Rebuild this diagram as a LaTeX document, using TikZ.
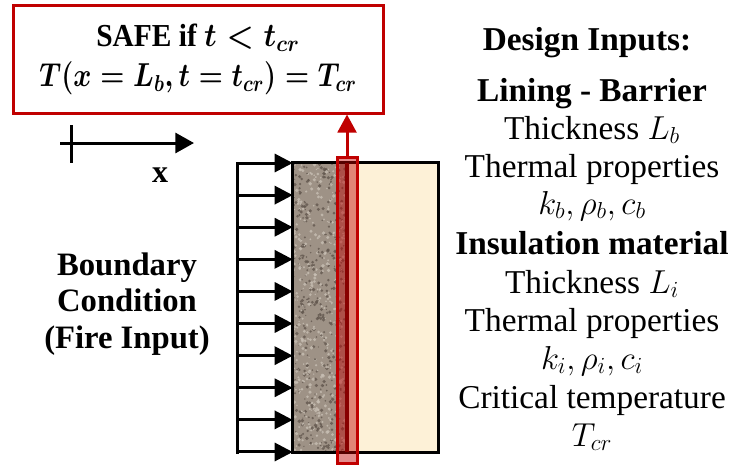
\documentclass[tikz,border=0pt]{standalone}
\usepackage{fontspec}
\setmainfont{Liberation Serif}
\usepackage{graphicx}
\usetikzlibrary{arrows.meta}
\definecolor{safered}{RGB}{192,0,0}
\definecolor{probedark}{RGB}{90,0,0}
\definecolor{cream}{RGB}{253,241,215}
\definecolor{granite}{RGB}{158,146,134}
\definecolor{granitedark}{RGB}{98,87,78}
\definecolor{granitelight}{RGB}{200,191,180}
\newcommand{\wide}[2][1]{\scalebox{#1}[1]{#2}}

\begin{document}
\begin{tikzpicture}[x=0.75pt, y=-0.75pt,
  >={Triangle[length=13.5pt, width=13.5pt]},
  thickline/.style={line width=2.25pt, black},
  flux/.style={thickline, ->},
  crit/.style={draw=safered, line width=2.25pt, inner sep=0pt,
    minimum width=277.5pt, minimum height=81pt, align=center,
    font=\fontsize{24}{30}\selectfont\bfseries\boldmath},
  probe/.style={draw=safered, line width=2.25pt, fill=safered, fill opacity=0.45,
    minimum width=15pt, minimum height=229.5pt, inner sep=0pt},
  intxt/.style={anchor=base, inner sep=0pt, font=\fontsize{25}{30}\selectfont},
  inhead/.style={intxt, font=\fontsize{25}{30}\selectfont\bfseries},
  bctxt/.style={anchor=base, inner sep=0pt, font=\fontsize{24.5}{30}\selectfont\bfseries}]
\useasboundingbox (0,0) rectangle (731,464);

% safety criterion
\node[crit] (safe) at (198,59)
  {\wide[0.92]{SAFE if $t<t_{cr}$}\\ \wide[0.83]{$T(x=L_b,t=t_{cr})=T_{cr}$}};

% x axis
\coordinate (xstart) at (60,143);
\coordinate (xorig) at (71,143);
\coordinate (xend) at (194,143);
\draw[thickline, ->, >={Triangle[length=14pt, width=15pt]}] (xstart) -- (xend);
\draw[thickline] (xorig |- 0,125) -- (xorig |- 0,163);
\node[anchor=base, inner sep=0pt, font=\fontsize{24}{28}\selectfont\bfseries] (xlab) at (160,182) {x};

% wall: barrier and insulation
\node[minimum width=108.75pt, minimum height=216.75pt, inner sep=0pt] (slab) at (365.5,307.5) {};
\begin{scope}
  \clip (slab.north west) rectangle (348,452);
  \fill[granite] (slab.north west) rectangle (348,452);
  \pgfmathsetseed{17}
  \foreach \k in {1,...,900} {
    \pgfmathsetmacro{\px}{293+56*rnd}
    \pgfmathsetmacro{\py}{163+290*rnd}
    \pgfmathsetmacro{\pr}{0.6+1.3*rnd}
    \ifodd\k
      \fill[granitedark, opacity=0.8] (\px,\py) circle[radius=\pr];
    \else
      \fill[granitelight, opacity=0.8] (\px,\py) circle[radius=\pr];
    \fi
  }
\end{scope}
\fill[cream] (348,163) rectangle (slab.south east);
\draw[thickline] (slab.north west) rectangle (slab.south east);

% fire input
\coordinate (bctop) at (237,163);
\coordinate (bcbot) at (237,452);
\draw[thickline, line cap=rect] (bctop) -- (bcbot);
\foreach \k [evaluate=\k as \y using 163+32.11*\k] in {0,...,9}
  \draw[flux] (bctop |- 0,\y) -- (slab.west |- 0,\y);

% probe at the barrier back face
\draw[probedark, line width=3pt] (347,163) -- (347,452);
\node[probe] (pr) at (347,310) {};
\draw[safered, line width=2.25pt, ->, >={Triangle[length=13.5pt, width=14pt]}]
  (pr.north) -- (pr.north |- safe.south);

% boundary condition
\node[bctxt] (bc1) at (127,275) {Boundary};
\node[bctxt] (bc2) at (127,311) {Condition};
\node[bctxt] (bc3) at (127,348) {(Fire Input)};

% design inputs
\node[inhead] (di) at (587,50) {Design Inputs:};
\node[inhead] (lb) at (592,101) {Lining - Barrier};
\node[intxt] (lb1) at (592,139) {Thickness $L_b$};
\node[intxt] (lb2) at (592,177) {Thermal properties};
\node[intxt] (lb3) at (592,214) {$k_b,\rho_b,c_b$};
\node[inhead] (im) at (592,254) {Insulation material};
\node[intxt] (im1) at (592,293) {Thickness $L_i$};
\node[intxt] (im2) at (592,331) {Thermal properties};
\node[intxt] (im3) at (592,369) {$k_i,\rho_i,c_i$};
\node[intxt] (ct) at (592,408) {Critical temperature};
\node[intxt] (ct1) at (592,446) {$T_{cr}$};
\end{tikzpicture}
\end{document}
